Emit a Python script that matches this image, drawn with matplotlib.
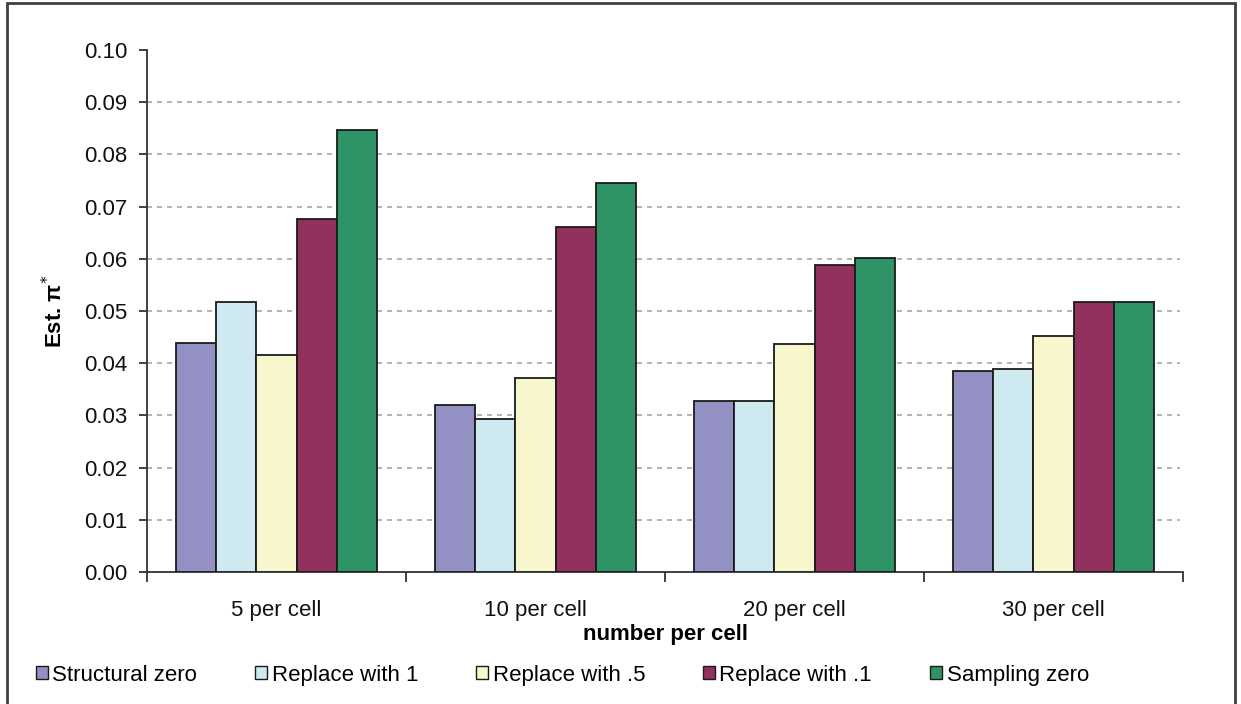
import matplotlib
matplotlib.use("Agg")
import matplotlib.pyplot as plt
import numpy as np
from matplotlib.patches import Rectangle, Patch

# Estimated pi* by cell size and zero-handling method
categories = ["5 per cell", "10 per cell", "20 per cell", "30 per cell"]
series_names = ["Structural zero", "Replace with 1", "Replace with .5",
                "Replace with .1", "Sampling zero"]
structural_zero = [0.0438, 0.0319, 0.0327, 0.0385]
replace_1 = [0.0517, 0.0294, 0.0327, 0.0388]
replace_05 = [0.0415, 0.0372, 0.0437, 0.0452]
replace_01 = [0.0677, 0.0660, 0.0588, 0.0518]
sampling_zero = [0.0846, 0.0745, 0.0602, 0.0518]
yticks = [0.00, 0.01, 0.02, 0.03, 0.04, 0.05, 0.06, 0.07, 0.08, 0.09, 0.10]

colors = ["#9391C4", "#CEEAF0", "#F8F6CC", "#92305E", "#2E9466"]
plt.rcParams["font.family"] = ["Liberation Sans", "DejaVu Sans"]


def main():
    fig = plt.figure(figsize=(12.41, 7.04), dpi=100)
    ax = fig.add_axes([0.1185, 0.1875, 0.8348, 0.7415])

    series = [structural_zero, replace_1, replace_05, replace_01, sampling_zero]
    x = np.arange(len(categories))
    width = 0.155
    for i, (vals, col) in enumerate(zip(series, colors)):
        ax.bar(x + (i - 2) * width, vals, width, color=col,
               edgecolor="#1a1a1a", linewidth=1.3, zorder=3)

    # dashed gridlines, none at 0 or at the top
    ax.hlines(yticks[1:-1], -0.5, 3.49, colors="#a6a6a6",
              linestyles=(0, (3, 3)), linewidth=1.2, zorder=1)

    ax.set_xlim(-0.5, 3.5)
    ax.set_ylim(0, 0.10)
    ax.set_yticks(yticks)
    ax.set_yticklabels([f"{t:.2f}" for t in yticks])
    ax.set_xticks(x)
    ax.set_xticklabels(categories)
    ax.set_xticks(np.arange(-0.5, 4.0, 1.0), minor=True)

    for side in ("top", "right"):
        ax.spines[side].set_visible(False)
    for side in ("left", "bottom"):
        ax.spines[side].set_color("#333333")
        ax.spines[side].set_linewidth(1.3)

    ax.tick_params(axis="y", length=6, width=1.3, color="#333333",
                   pad=8, labelsize=16, labelcolor="#111111")
    ax.tick_params(axis="x", which="major", length=0, pad=20,
                   labelsize=16, labelcolor="#111111")
    ax.tick_params(axis="x", which="minor", length=7, width=1.3,
                   color="#333333")

    ax.set_xlabel("number per cell", fontsize=16, fontweight="bold",
                  labelpad=2)
    ax.set_ylabel(r"Est. π$^{*}$", fontsize=16, fontweight="bold",
                  labelpad=12)

    handles = [Patch(facecolor=c, edgecolor="#1a1a1a", linewidth=1.0)
               for c in colors]
    fig.legend(handles, series_names, loc="center", ncol=5,
               bbox_to_anchor=(0.453, 0.041), frameon=False,
               fontsize=16, handlelength=0.55, handleheight=0.55,
               handletextpad=0.2, columnspacing=2.6)

    # outer chart frame
    fig.patches.append(Rectangle((0.0058, -0.02), 0.9895, 1.016,
                                 transform=fig.transFigure, fill=False,
                                 edgecolor="#404040", linewidth=2))

    fig.savefig("out.png", dpi=100, facecolor="white")


if __name__ == "__main__":
    main()
